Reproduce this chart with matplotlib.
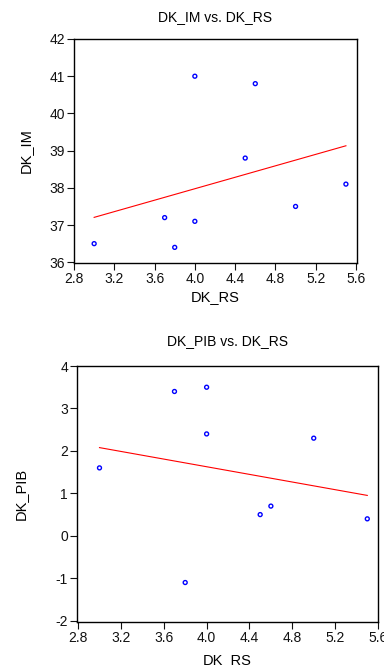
import numpy as np
import matplotlib
matplotlib.use("Agg")
import matplotlib.pyplot as plt

plt.rcParams['font.family'] = ['Liberation Sans', 'DejaVu Sans']
plt.rcParams['axes.unicode_minus'] = False

dk_rs = [3.0, 3.7, 3.8, 4.0, 4.0, 4.5, 4.6, 5.0, 5.5]
dk_im = [36.5, 37.2, 36.4, 37.1, 41.0, 38.8, 40.8, 37.5, 38.1]
dk_pib = [1.6, 3.4, -1.1, 2.4, 3.5, 0.5, 0.7, 2.3, 0.4]

x_ticks = [2.8, 3.2, 3.6, 4.0, 4.4, 4.8, 5.2, 5.6]
im_ticks = [36, 37, 38, 39, 40, 41, 42]
pib_ticks = [-2, -1, 0, 1, 2, 3, 4]

fig = plt.figure(figsize=(3.84, 6.67), dpi=100)
W, H = 384, 667

def make_ax(l, t, r, b):
    return fig.add_axes([l / W, 1 - b / H, (r - l) / W, (b - t) / H])

def draw(ax, x, y, yticks, ylab, title, xlim, ylim, ylab_x, xlab_y, title_y):
    xa = np.array(x); ya = np.array(y)
    ax.scatter(xa, ya, s=8, facecolors='none', edgecolors='#0000ff', linewidths=1.0, zorder=3)
    k, c = np.polyfit(xa, ya, 1)
    xs = np.array([xa.min(), xa.max()])
    ax.plot(xs, k * xs + c, color='#ff0000', lw=0.8)
    ax.set_xlim(*xlim)
    ax.set_ylim(*ylim)
    ax.set_xticks(x_ticks)
    ax.set_xticklabels([f"{v:.1f}" for v in x_ticks])
    ax.set_yticks(yticks)
    ax.set_yticklabels([str(v) for v in yticks])
    ax.tick_params(direction='out', length=5, width=0.8, labelsize=10, pad=1.5, colors='#111111')
    for s in ax.spines.values():
        s.set_linewidth(1.0)
    ax.set_xlabel('DK_RS', fontsize=10.5)
    ax.set_ylabel(ylab, fontsize=10.5)
    ax.yaxis.set_label_coords(ylab_x, 0.5)
    ax.xaxis.set_label_coords(0.5, xlab_y)
    ax.set_title(title, fontsize=10, y=title_y)

ax1 = make_ax(74, 39, 357, 263)
draw(ax1, dk_rs, dk_im, im_ticks, 'DK_IM', 'DK_IM vs. DK_RS', (2.8, 5.61), (35.98, 42.0),
     -0.145, -0.12, 1.045)

ax2 = make_ax(77, 366, 378, 622)
draw(ax2, dk_rs, dk_pib, pib_ticks, 'DK_PIB', 'DK_PIB vs. DK_RS', (2.79, 5.6), (-2.03, 4.0),
     -0.165, -0.12, 1.05)

fig.savefig('out.png', dpi=100)
